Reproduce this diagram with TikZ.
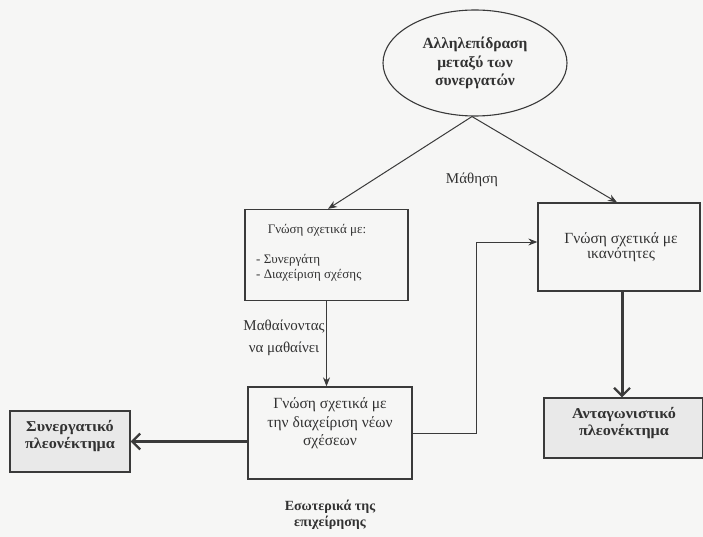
\documentclass[tikz,border=0pt]{standalone}
\usepackage{fontspec}
\setmainfont{Liberation Serif}
\newfontfamily\widebold[FakeStretch=1.08]{Liberation Serif}
\usetikzlibrary{shapes.geometric,arrows.meta}
\definecolor{paper}{RGB}{246,246,245}
\definecolor{ink}{RGB}{58,58,58}
\definecolor{textink}{RGB}{50,50,50}
\definecolor{shade}{RGB}{233,233,233}
\tikzset{
  box/.style={draw=ink, line width=1.3pt, rectangle, inner sep=0pt, text=textink,
    align=center, font=\fontsize{15.5}{15}\selectfont},
  shadebox/.style={box, fill=shade, font=\widebold\fontsize{15}{17}\selectfont\bfseries},
  oval/.style={draw=ink, line width=1.1pt, ellipse, inner sep=0pt, text=textink,
    align=center, font=\fontsize{15.5}{18.5}\selectfont\bfseries},
  caption/.style={inner sep=0pt, text=textink, align=center, font=\fontsize{15}{20}\selectfont},
  link/.style={draw=ink, line width=1pt, -{Stealth[length=9pt,width=7pt]}},
  heavylink/.style={draw=ink, line width=3pt, -{Straight Barb[length=8pt,width=16pt,line width=2.2pt]}}
}
\begin{document}
\begin{tikzpicture}[x=1pt,y=-1pt]
  \fill[paper] (0,0) rectangle (703,537);
  \useasboundingbox (0,0) rectangle (703,537);

  % top: interaction between partners
  \node[oval, minimum width=184, minimum height=106] (ell) at (475,63)
    {Αλληλεπίδραση\\μεταξύ των\\συνεργατών};

  % knowledge boxes
  \node[box, minimum width=163, minimum height=91] (box1) at (326.5,255) {};
  \node[caption, font=\fontsize{13}{15}\selectfont] (box1head) at (317,230) {Γνώση σχετικά με:};
  \node[caption, anchor=west, align=left, font=\fontsize{13}{15}\selectfont]
    (box1list) at (256,267.5) {- Συνεργάτη\\- Διαχείριση σχέσης};

  \node[box, minimum width=162, minimum height=88] (rbox) at (619,247) {};
  \node[caption, font=\fontsize{15.5}{15}\selectfont] (rboxtxt) at (621,247.5)
    {Γνώση σχετικά με\\ικανότητες};

  \node[box, minimum width=164, minimum height=92] (mid) at (330,433) {};
  \node[caption, font=\fontsize{15.5}{18.5}\selectfont] (midtxt) at (330,423.5)
    {Γνώση σχετικά με\\την διαχείριση νέων\\σχέσεων};

  % outcome boxes
  \node[shadebox, minimum width=120, minimum height=61] (lbox) at (70,441.5) {};
  \node[caption, font=\widebold\fontsize{15}{17}\selectfont\bfseries] (lboxtxt) at (70,436.5)
    {Συνεργατικό\\πλεονέκτημα};
  \node[shadebox, minimum width=159, minimum height=60] (abox) at (623.5,428) {};
  \node[caption, font=\widebold\fontsize{15}{17}\selectfont\bfseries] (aboxtxt) at (624,423.5)
    {Ανταγωνιστικό\\πλεονέκτημα};

  % labels
  \node[caption] (learn) at (472,180) {Μάθηση};
  \node[caption, font=\fontsize{15}{22}\selectfont] (learn2) at (284,338) {Μαθαίνοντας\\να μαθαίνει};
  \node[caption, font=\fontsize{14}{16}\selectfont\bfseries] (inside) at (330,515)
    {Εσωτερικά της\\επιχείρησης};

  % connectors
  \coordinate (fork) at ([xshift=-3pt]ell.south);
  \coordinate (bend) at (476,0);
  \draw[link] (fork) -- ([xshift=1.5pt]box1.north);
  \draw[link] (fork) -- ([xshift=-2pt]rbox.north);
  \draw[link] (box1.south) -- (box1.south |- mid.north);
  \draw[link] (mid.east) -- (mid.east -| bend) |- ([yshift=5pt]rbox.west);
  \draw[heavylink] (mid.west |- lbox.east) -- (lbox.east);
  \draw[heavylink] ([xshift=3pt]rbox.south) -- ([xshift=3pt]rbox.south |- abox.north);
\end{tikzpicture}
\end{document}
